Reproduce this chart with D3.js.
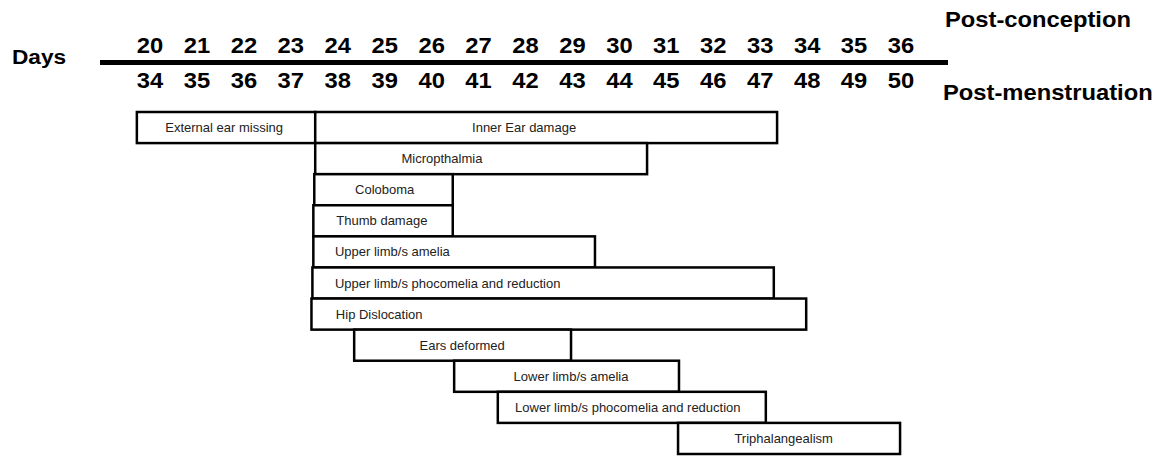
<!DOCTYPE html>
<html>
<head>
<meta charset="utf-8">
<script src="https://cdn.jsdelivr.net/npm/d3@7"></script>
<style>
    body { margin: 0; background: #fff; }
    text { font-family: "Liberation Sans", Arial, Helvetica, sans-serif; }
</style>
</head>
<body>
<div id="chart"></div>
<script>
// Day tick labels (two rows sharing the same axis)
const postConception = [20, 21, 22, 23, 24, 25, 26, 27, 28, 29, 30, 31, 32, 33, 34, 35, 36];
const postMenstruation = [34, 35, 36, 37, 38, 39, 40, 41, 42, 43, 44, 45, 46, 47, 48, 49, 50];

// Sensitive periods, in post-conception days
const defects = [
    'External ear missing', 'Inner Ear damage', 'Micropthalmia', 'Coloboma', 'Thumb damage',
    'Upper limb/s amelia', 'Upper limb/s phocomelia and reduction', 'Hip Dislocation',
    'Ears deformed', 'Lower limb/s amelia', 'Lower limb/s phocomelia and reduction', 'Triphalangealism'
];
const startDay = [19.72, 23.52, 23.52, 23.5, 23.48, 23.48, 23.46, 23.44, 24.35, 26.48, 27.41, 31.25];
const endDay = [23.52, 33.36, 30.59, 26.45, 26.45, 29.48, 33.29, 33.98, 28.97, 31.27, 33.12, 35.98];
const rowIndex = [0, 0, 1, 2, 3, 4, 5, 6, 7, 8, 9, 10];
// where the label sits (day) and how it is anchored
const labelDay = [21.58, 27.97, 26.22, 25.0, 24.94, 23.94, 23.94, 23.96, 26.65, 28.97, 30.18, 33.5];
const labelAnchor = ['middle', 'middle', 'middle', 'middle', 'middle', 'start', 'start', 'start',
    'middle', 'middle', 'middle', 'middle'];

const width = 1163;
const height = 457;

const svg = d3.select('#chart')
    .append('svg')
    .attr('width', width)
    .attr('height', height);

// x: day -> pixel
const xScale = d3.scaleLinear()
    .domain([20, 36])
    .range([150, 901]);

// y: row -> band (last row runs off the bottom edge like the scan)
const yScale = d3.scaleBand()
    .domain(d3.range(11))
    .range([112, 454])
    .paddingInner(0);

// Header, the bold type is a bit wide in the scan so stretch it slightly
function boldText(x, y, size, label) {
    return svg.append('text')
        .attr('transform', 'translate(' + x + ',' + y + ') scale(1.08,1)')
        .style('font-size', size + 'px')
        .style('font-weight', 'bold')
        .text(label);
}

boldText(12, 64, 21, 'Days');
boldText(945, 27, 22, 'Post-conception');
boldText(943, 100, 22, 'Post-menstruation');

svg.append('line')
    .attr('x1', 100)
    .attr('x2', 948)
    .attr('y1', 62.5)
    .attr('y2', 62.5)
    .attr('stroke', '#000')
    .attr('stroke-width', 5);

svg.append('g')
    .selectAll('text')
    .data(postConception)
    .enter()
    .append('text')
    .attr('transform', d => 'translate(' + xScale(d) + ',53) scale(1.08,1)')
    .attr('text-anchor', 'middle')
    .style('font-size', '22px')
    .style('font-weight', 'bold')
    .text(d => d);

svg.append('g')
    .selectAll('text')
    .data(postMenstruation)
    .enter()
    .append('text')
    .attr('transform', (d, i) => 'translate(' + xScale(postConception[i]) + ',88) scale(1.08,1)')
    .attr('text-anchor', 'middle')
    .style('font-size', '22px')
    .style('font-weight', 'bold')
    .text(d => d);

// Bars
const bars = svg.append('g')
    .selectAll('g')
    .data(defects)
    .enter()
    .append('g');

bars.append('rect')
    .attr('x', (d, i) => xScale(startDay[i]))
    .attr('y', (d, i) => yScale(rowIndex[i]))
    .attr('width', (d, i) => xScale(endDay[i]) - xScale(startDay[i]))
    .attr('height', yScale.bandwidth())
    .attr('fill', '#fff')
    .attr('stroke', '#000')
    .attr('stroke-width', 2.5);

bars.append('text')
    .attr('x', (d, i) => xScale(labelDay[i]))
    .attr('y', (d, i) => yScale(rowIndex[i]) + yScale.bandwidth() / 2)
    .attr('dy', '0.35em')
    .attr('text-anchor', (d, i) => labelAnchor[i])
    .style('font-size', '13px')
    .style('fill', '#222')
    .text(d => d);
</script>
</body>
</html>
